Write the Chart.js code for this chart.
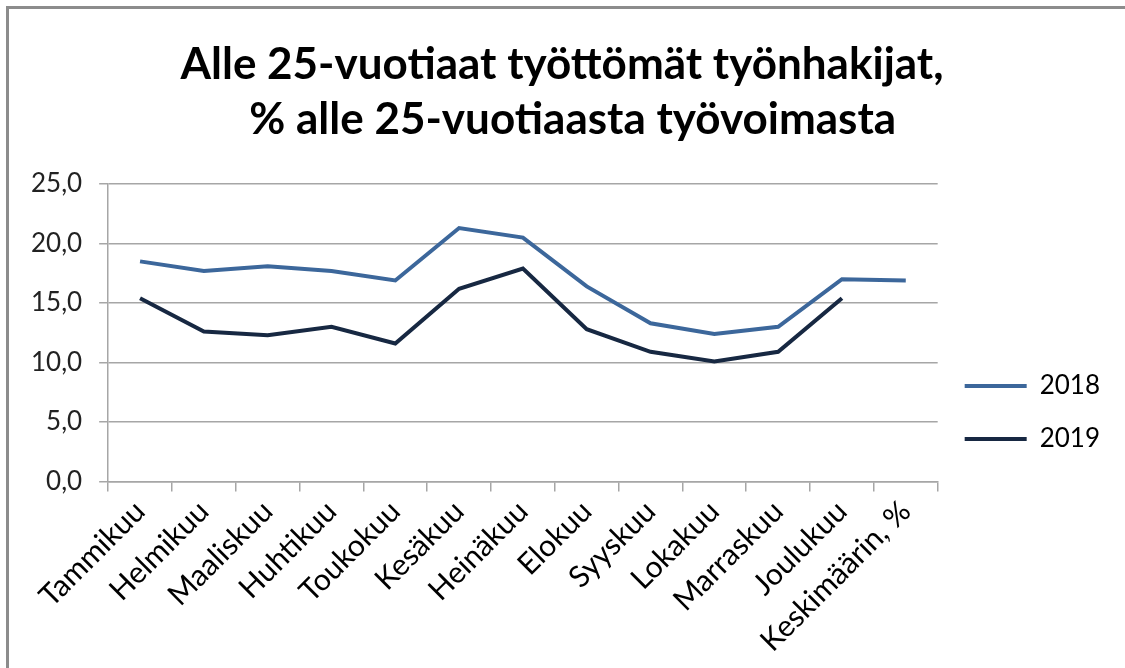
<!DOCTYPE html>
<html>
<head>
<meta charset="utf-8">
<script src="https://cdn.jsdelivr.net/npm/chart.js@4.4.1/dist/chart.umd.min.js"></script>
<style>
  html, body { margin: 0; padding: 0; background: #fff; }
  #wrap { width: 1125px; height: 668px; }
</style>
</head>
<body>
<div id="wrap"><canvas id="chart"></canvas></div>
<script>
const months = ['Tammikuu', 'Helmikuu', 'Maaliskuu', 'Huhtikuu', 'Toukokuu', 'Kesäkuu', 'Heinäkuu',
                'Elokuu', 'Syyskuu', 'Lokakuu', 'Marraskuu', 'Joulukuu', 'Keskimäärin, %'];
const values2018 = [18.5, 17.7, 18.1, 17.7, 16.9, 21.3, 20.5, 16.4, 13.3, 12.4, 13.0, 17.0, 16.9];
const values2019 = [15.4, 12.6, 12.3, 13.0, 11.6, 16.2, 17.9, 12.8, 10.9, 10.1, 10.9, 15.4, null];
const yTicks = [0, 5, 10, 15, 20, 25];

const fontFamily = 'Lato, "Open Sans", sans-serif';
const gridColor = '#a6a6a6';

// frame around the chart (only left and top edges are visible in the picture)
const framePlugin = {
    id: 'frame',
    beforeDraw(chart) {
        const ctx = chart.ctx;
        ctx.save();
        ctx.strokeStyle = '#8c8c8c';
        ctx.lineWidth = 3;
        ctx.strokeRect(7.5, 7.5, chart.width + 20, chart.height + 20);
        ctx.restore();
    }
};

const ctx = document.getElementById('chart').getContext('2d');
new Chart(ctx, {
    type: 'line',
    data: {
        labels: months,
        datasets: [{
            label: '2018',
            data: values2018,
            borderColor: '#3c679b',
            backgroundColor: '#3c679b',
            borderWidth: 4,
            pointRadius: 0,
            tension: 0
        }, {
            label: '2019',
            data: values2019,
            borderColor: '#172842',
            backgroundColor: '#172842',
            borderWidth: 4,
            pointRadius: 0,
            tension: 0
        }]
    },
    options: {
        responsive: true,
        maintainAspectRatio: false,
        animation: false,
        layout: { padding: { top: 10, left: 14, right: 15, bottom: 7 } },
        plugins: {
            title: {
                display: true,
                text: ['Alle 25-vuotiaat työttömät työnhakijat,', '  % alle 25-vuotiaasta työvoimasta'],
                color: '#000',
                font: { family: fontFamily, size: 44, weight: 'bold', lineHeight: 1.25 },
                padding: { top: 27, bottom: 37 }
            },
            legend: {
                position: 'right',
                align: 'start',
                // empty legend title only used to push the entries down
                title: {
                    display: true,
                    text: '',
                    font: { size: 10, lineHeight: 1 },
                    padding: { top: 326, bottom: 0 }
                },
                labels: {
                    usePointStyle: true,
                    pointStyle: 'line',
                    pointStyleWidth: 62,
                    color: '#000',
                    font: { family: fontFamily, size: 26 },
                    padding: 27
                }
            },
            tooltip: { enabled: false }
        },
        scales: {
            x: {
                offset: true,
                grid: {
                    offset: true,
                    drawOnChartArea: false,
                    drawTicks: true,
                    tickLength: 10,
                    color: gridColor,
                    lineWidth: 1.5
                },
                border: { color: gridColor, width: 1.5 },
                ticks: {
                    maxRotation: 45,
                    minRotation: 45,
                    color: '#000',
                    padding: 2,
                    font: { family: fontFamily, size: 30 }
                }
            },
            y: {
                min: 0,
                max: 25,
                afterBuildTicks(scale) {
                    scale.ticks = yTicks.map(v => ({ value: v }));
                },
                grid: {
                    color: gridColor,
                    lineWidth: 1.5,
                    tickLength: 9
                },
                border: { color: gridColor, width: 1.5 },
                ticks: {
                    color: '#222',
                    padding: 17,
                    font: { family: fontFamily, size: 26 },
                    callback: v => v.toFixed(1).replace('.', ',')
                }
            }
        }
    },
    plugins: [framePlugin]
});
</script>
</body>
</html>
